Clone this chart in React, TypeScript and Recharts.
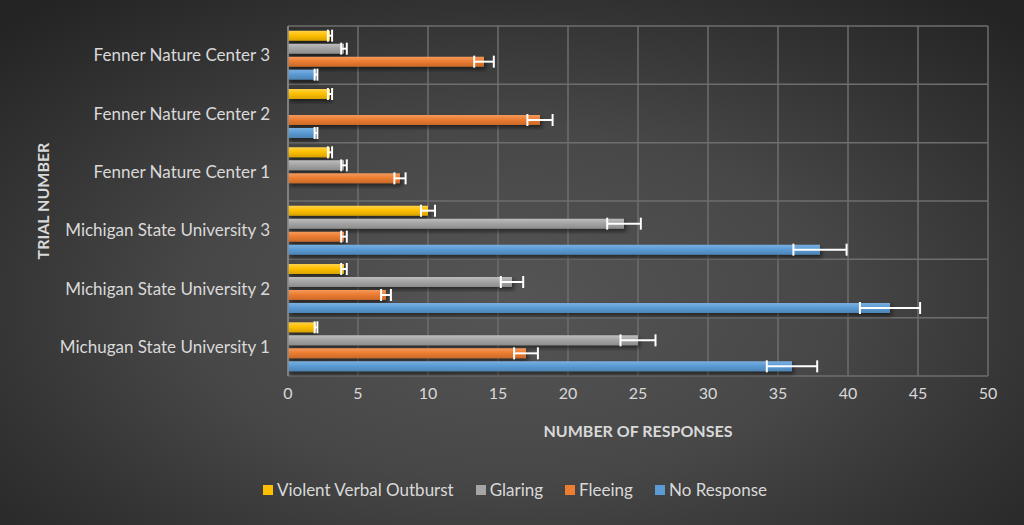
import React from 'react';
import {
  BarChart,
  Bar,
  XAxis,
  YAxis,
  CartesianGrid,
  ErrorBar,
  Label,
} from 'recharts';

// top to bottom, as drawn
const categories = [
  'Fenner Nature Center 3',
  'Fenner Nature Center 2',
  'Fenner Nature Center 1',
  'Michigan State University 3',
  'Michigan State University 2',
  'Michugan State University 1',
];

const violentVerbal = [3, 3, 3, 10, 4, 2];
const glaring = [4, 0, 4, 24, 16, 25];
const fleeing = [14, 18, 8, 4, 7, 17];
const noResponse = [2, 2, 0, 38, 43, 36];

// error bar half-widths
const violentVerbalErr = [0.15, 0.15, 0.15, 0.5, 0.2, 0.1];
const glaringErr = [0.2, 0, 0.2, 1.2, 0.8, 1.25];
const fleeingErr = [0.7, 0.9, 0.4, 0.2, 0.35, 0.85];
const noResponseErr = [0.1, 0.1, 0, 1.9, 2.15, 1.8];

const xTicks = [0, 5, 10, 15, 20, 25, 30, 35, 40, 45, 50];

const SERIES = [
  { key: 'violent', name: 'Violent Verbal Outburst', color: '#FFC000', light: '#FFD24D', dark: '#D9A300' },
  { key: 'glaring', name: 'Glaring', color: '#A5A5A5', light: '#BDBDBD', dark: '#8C8C8C' },
  { key: 'fleeing', name: 'Fleeing', color: '#ED7D31', light: '#F39A5E', dark: '#C9692A' },
  { key: 'noResponse', name: 'No Response', color: '#5B9BD5', light: '#7BB0E0', dark: '#4D84B5' },
];

const data = categories.map((name, i) => ({
  name,
  violent: violentVerbal[i],
  violentErr: violentVerbalErr[i],
  glaring: glaring[i],
  glaringErr: glaringErr[i],
  fleeing: fleeing[i],
  fleeingErr: fleeingErr[i],
  noResponse: noResponse[i],
  noResponseErr: noResponseErr[i],
}));

const FONT = 'Lato, "Open Sans", sans-serif';
const TEXT = '#D9D9D9';

function ChartLegend() {
  return (
    <div
      style={{
        position: 'absolute',
        left: 0,
        top: 479,
        width: 1030,
        display: 'flex',
        justifyContent: 'center',
        gap: 22,
        fontFamily: FONT,
        fontSize: 17,
        color: TEXT,
        lineHeight: '22px',
      }}
    >
      {SERIES.map((s) => (
        <div key={s.key} style={{ display: 'flex', alignItems: 'center' }}>
          <span
            style={{
              display: 'inline-block',
              width: 10,
              height: 10,
              background: s.color,
              marginRight: 4,
            }}
          />
          <span>{s.name}</span>
        </div>
      ))}
    </div>
  );
}

export default function App() {
  return (
    <div
      style={{
        position: 'absolute',
        left: 0,
        top: 0,
        width: 1024,
        height: 525,
        background:
          'radial-gradient(ellipse 70% 75% at 50% 58%, #555555 0%, #474747 45%, #333333 75%, #242424 100%)',
        fontFamily: FONT,
      }}
    >
      <BarChart
        width={1024}
        height={525}
        data={data}
        layout="vertical"
        margin={{ top: 26, right: 36, bottom: 74, left: 0 }}
        barCategoryGap="8%"
        barGap={3}
      >
        <defs>
          {SERIES.map((s) => (
            <linearGradient key={s.key} id={`grad-${s.key}`} x1="0" y1="0" x2="0" y2="1">
              <stop offset="0%" stopColor={s.light} />
              <stop offset="45%" stopColor={s.color} />
              <stop offset="100%" stopColor={s.dark} />
            </linearGradient>
          ))}
          <filter id="barShadow" x="-5%" y="-30%" width="115%" height="180%">
            <feDropShadow dx="2" dy="3" stdDeviation="2" floodColor="#000" floodOpacity="0.5" />
          </filter>
        </defs>
        <CartesianGrid
          stroke="#6E6E6E"
          strokeWidth={1.5}
          horizontalCoordinatesGenerator={({ offset }: any) =>
            categories.concat(['']).map((_, i) => offset.top + (i * offset.height) / categories.length)
          }
        />
        <XAxis
          type="number"
          domain={[0, 50]}
          ticks={xTicks}
          height={75}
          axisLine={false}
          tickLine={false}
          tickMargin={6}
          tick={{ fill: TEXT, fontSize: 16, fontFamily: FONT }}
        >
          <Label
            value="NUMBER OF RESPONSES"
            position="insideBottom"
            offset={14}
            style={{ fill: TEXT, fontSize: 16, fontWeight: 'bold', fontFamily: FONT }}
          />
        </XAxis>
        <YAxis
          type="category"
          dataKey="name"
          width={288}
          axisLine={{ stroke: '#8A8A8A', strokeWidth: 1.5 }}
          tickLine={false}
          tickMargin={12}
          tick={{ fill: TEXT, fontSize: 17, fontFamily: FONT }}
        >
          <Label
            content={({ viewBox }: any) => (
              <text
                x={42}
                y={viewBox.y + viewBox.height / 2}
                transform={`rotate(-90, 42, ${viewBox.y + viewBox.height / 2})`}
                textAnchor="middle"
                dominantBaseline="central"
                fill={TEXT}
                fontSize={16}
                fontWeight="bold"
                fontFamily={FONT}
              >
                TRIAL NUMBER
              </text>
            )}
          />
        </YAxis>
        {SERIES.map((s) => (
          <Bar
            key={s.key}
            dataKey={s.key}
            name={s.name}
            fill={`url(#grad-${s.key})`}
            filter="url(#barShadow)"
            isAnimationActive={false}
          >
            <ErrorBar
              dataKey={`${s.key}Err`}
              direction="x"
              width={6}
              stroke="#FFFFFF"
              strokeWidth={2}
            />
          </Bar>
        ))}
      </BarChart>
      <ChartLegend />
    </div>
  );
}
